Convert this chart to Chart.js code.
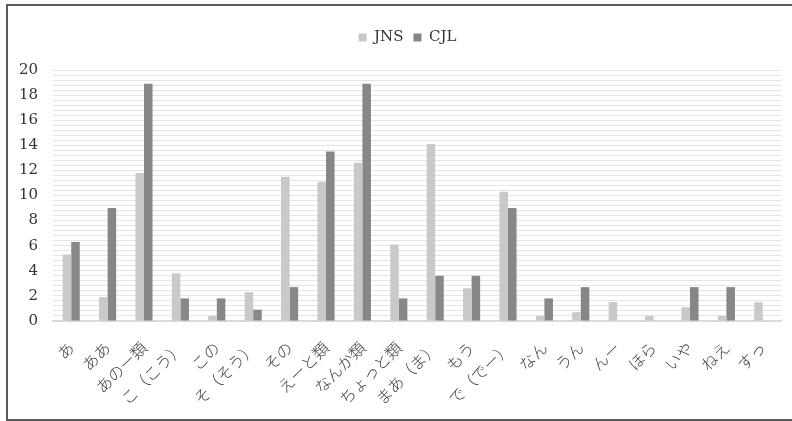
<!DOCTYPE html>
<html>
<head>
<meta charset="utf-8">
<script src="https://cdn.jsdelivr.net/npm/chart.js@4.4.0/dist/chart.umd.min.js"></script>
<style>
  html, body { margin: 0; padding: 0; background: #fff; overflow: hidden; }
  #wrap { position: absolute; left: 0; top: 0; width: 792px; height: 421px; }
  #frame { position: absolute; left: 6px; top: 4px; width: 800px; height: 417px; box-sizing: border-box; border: 2px solid #5a5a5a; pointer-events: none; }
</style>
</head>
<body>
<div id="wrap"><canvas id="c" width="792" height="421"></canvas></div>
<div id="frame"></div>
<script>
const categories = ['あ','ああ','あのー類','こ（こう）','この','そ（そう）','その','えーと類','なんか類','ちょっと類','まあ（ま）','もう','で（でー）','なん','うん','んー','ほら','いや','ねえ','すっ'];
const jnsValues = [5.3, 1.9, 11.8, 3.8, 0.4, 2.3, 11.5, 11.1, 12.6, 6.1, 14.1, 2.6, 10.3, 0.4, 0.7, 1.5, 0.4, 1.1, 0.4, 1.5];
const cjlValues = [6.3, 9.0, 18.9, 1.8, 1.8, 0.9, 2.7, 13.5, 18.9, 1.8, 3.6, 3.6, 9.0, 1.8, 2.7, 0, 0, 2.7, 2.7, 0];
const seriesNames = ['JNS', 'CJL'];
const yMax = 20;
const yLabelStep = 2;

const legendMargin = {
  id: 'legendMargin',
  beforeInit(chart) {
    const fitValue = chart.legend.fit;
    chart.legend.fit = function fit() {
      fitValue.bind(chart.legend)();
      this.height = 50;
    };
  },
  afterLayout(chart) {
    chart.legend.left += 17;
    chart.legend.right += 17;
  }
};

new Chart(document.getElementById('c'), {
  type: 'bar',
  data: {
    labels: categories,
    datasets: [
      { label: seriesNames[0], data: jnsValues, backgroundColor: '#c9c9c9', categoryPercentage: 0.47, barPercentage: 1.0 },
      { label: seriesNames[1], data: cjlValues, backgroundColor: '#878787', categoryPercentage: 0.47, barPercentage: 1.0 }
    ]
  },
  options: {
    responsive: false,
    animation: false,
    devicePixelRatio: 1,
    layout: { padding: { top: 20, left: 0, right: 11, bottom: 4 } },
    plugins: {
      legend: {
        position: 'top',
        labels: {
          boxWidth: 8, boxHeight: 8, padding: 10,
          color: '#333',
          font: { family: '"DejaVu Serif", "Liberation Serif", serif', size: 15 }
        }
      },
      tooltip: { enabled: false }
    },
    scales: {
      x: {
        grid: { display: false },
        border: { display: true, color: '#d9d9d9', width: 2 },
        ticks: {
          maxRotation: 45, minRotation: 45, autoSkip: false, padding: 9,
          color: '#404040',
          font: { family: '"Noto Sans CJK JP", sans-serif', size: 16, weight: 300 }
        },
        afterFit(scale) { scale.height = 96; }
      },
      y: {
        min: 0, max: yMax,
        grid: { color: '#e4e4e4', lineWidth: 1, drawTicks: false },
        border: { display: false },
        ticks: {
          stepSize: 0.4, maxTicksLimit: 100, autoSkip: false, padding: 15,
          color: '#333',
          font: { family: '"DejaVu Serif", "Liberation Serif", serif', size: 15 },
          callback(v) {
            const r = v / yLabelStep;
            return Math.abs(r - Math.round(r)) < 1e-6 ? String(Math.round(v)) : '';
          }
        },
        afterFit(scale) { scale.width = 53; }
      }
    }
  },
  plugins: [legendMargin]
});
</script>
</body>
</html>
